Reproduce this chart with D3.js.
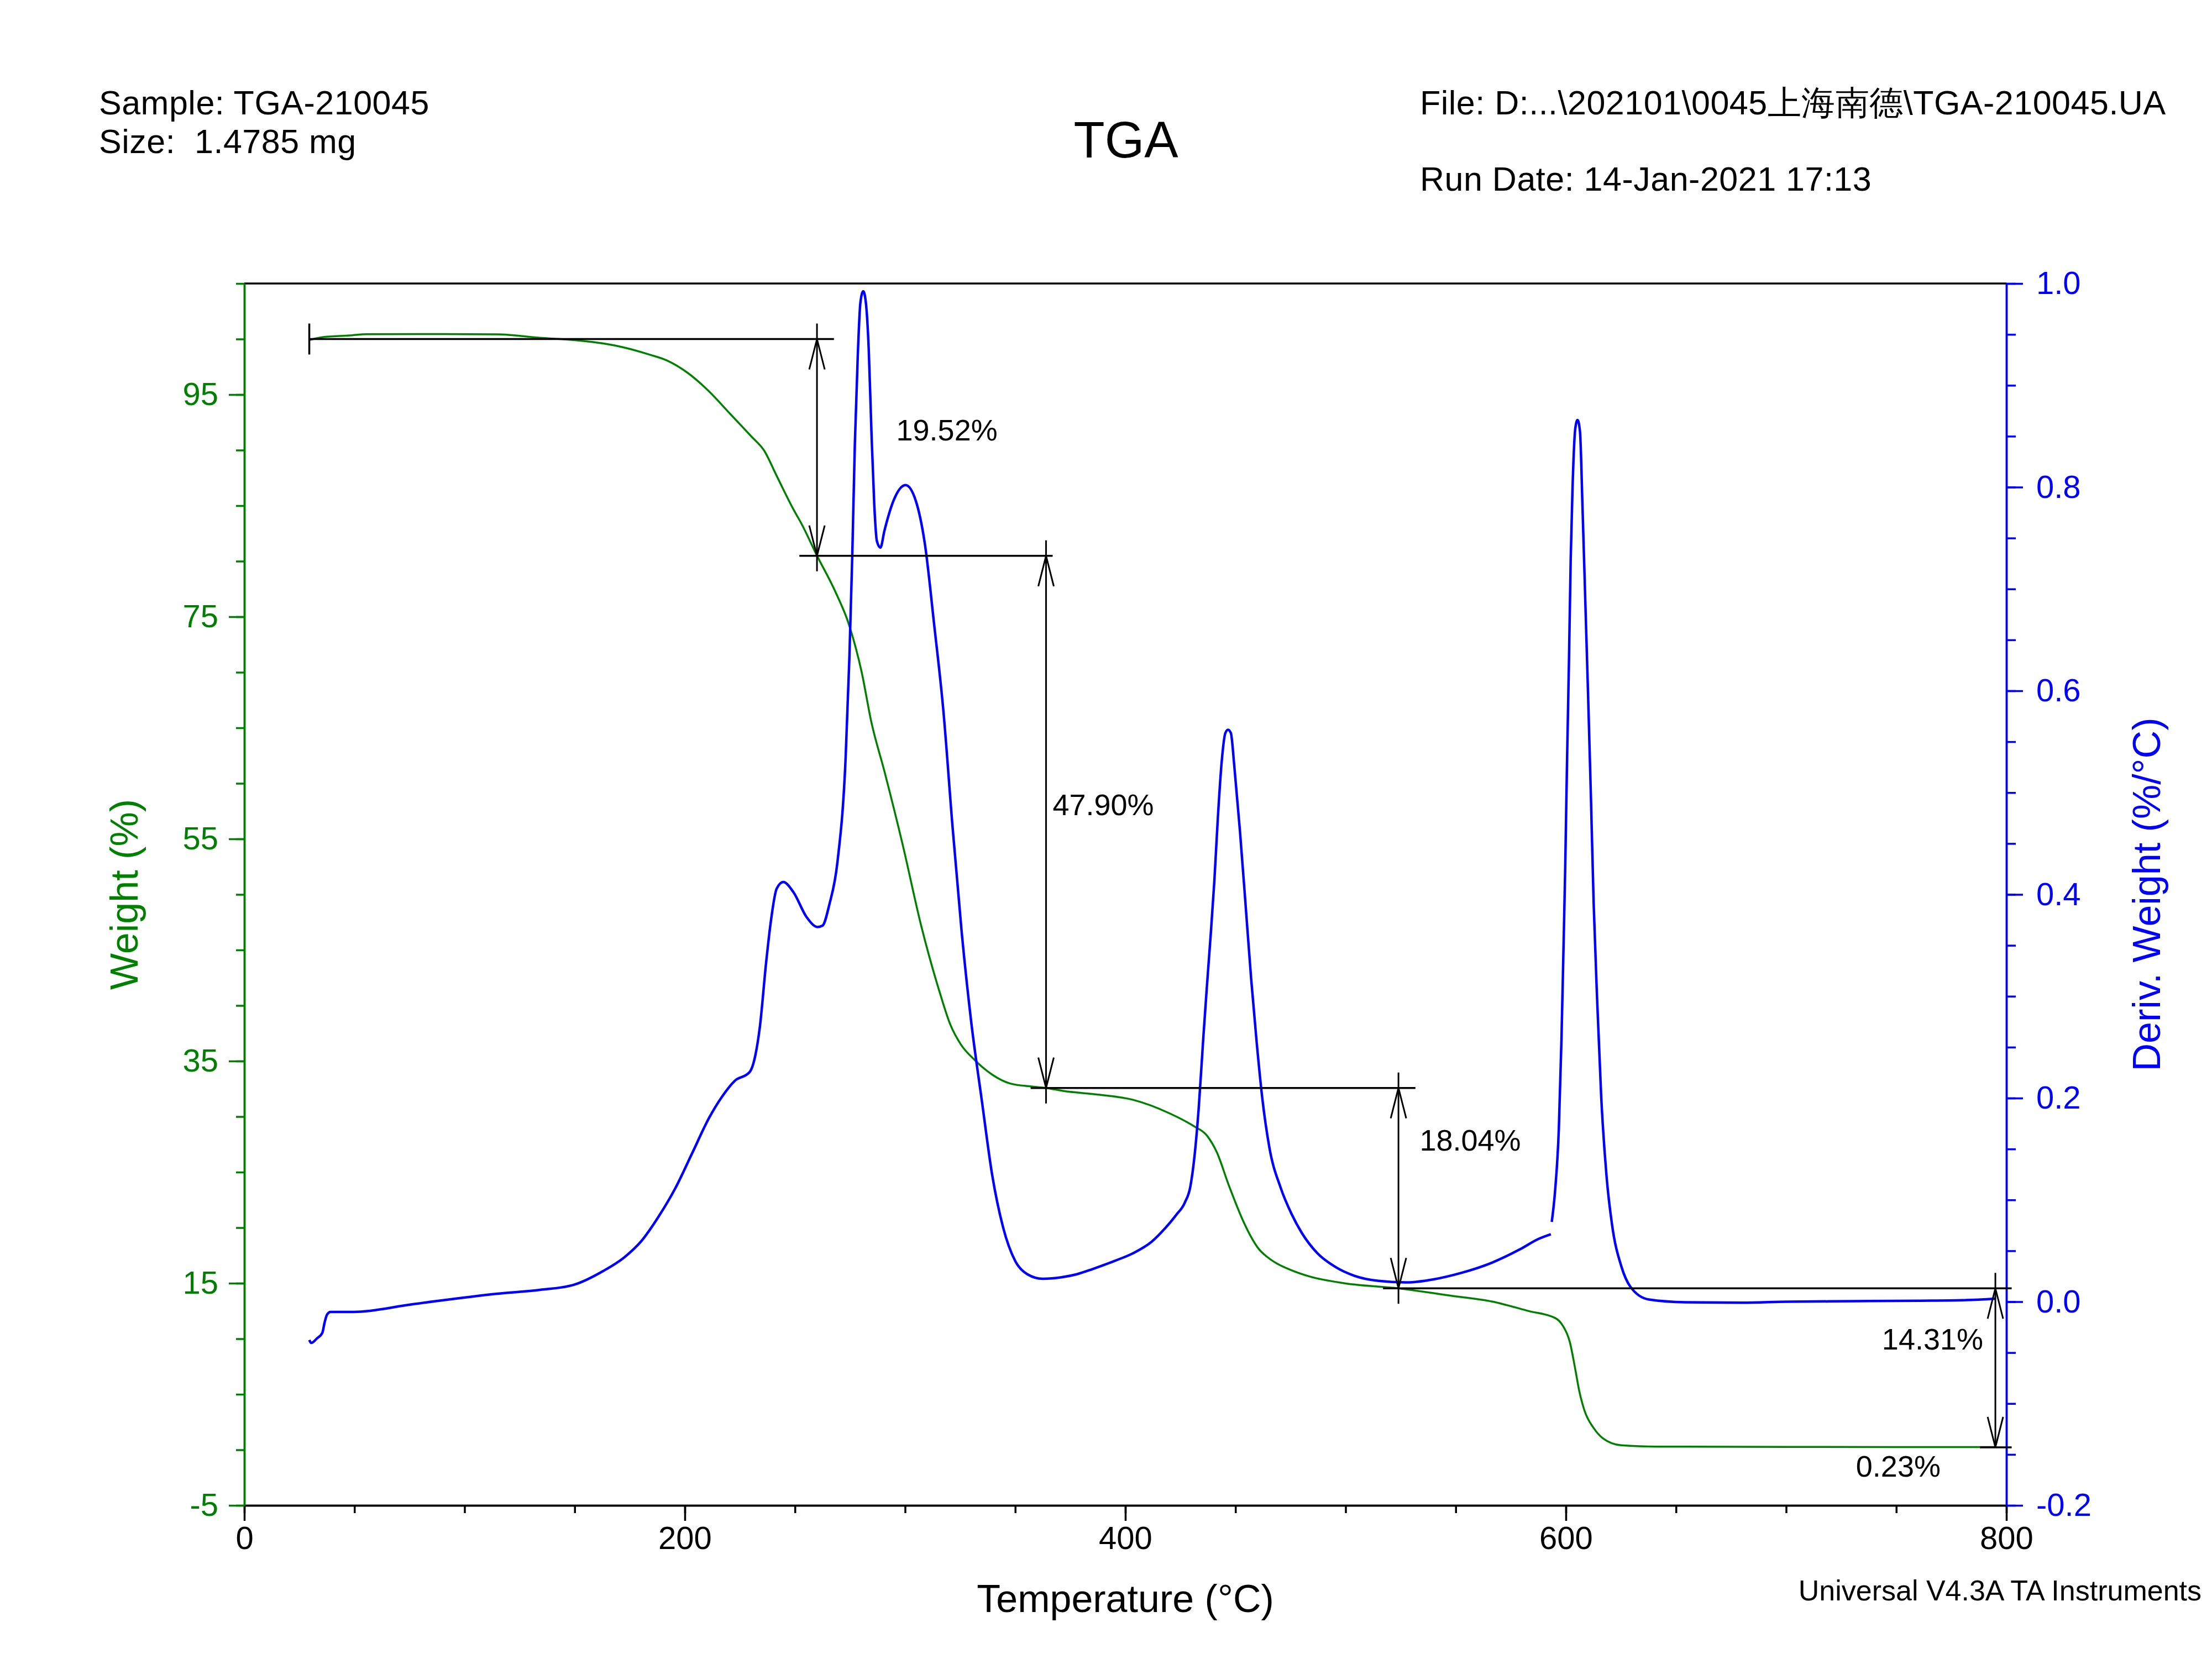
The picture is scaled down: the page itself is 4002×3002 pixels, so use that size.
<!DOCTYPE html>
<html>
<head>
<meta charset="utf-8">
<script src="https://cdn.jsdelivr.net/npm/d3@7"></script>
<style>
body { margin: 0; background: #fff; }
text { font-family: "Liberation Sans", Arial, sans-serif; }
</style>
</head>
<body>
<div id="chart"></div>
<script>
// weight curve, [temperature °C, weight %]
var weightCurve = [
    [29.5, 99.91], [35.3, 100.16], [47.8, 100.32], [55.5, 100.44], [80, 100.45],
    [115, 100.42], [134.2, 100.11], [147.6, 99.94], [163, 99.6], [172.6, 99.23],
    [184.1, 98.59], [191.8, 98.08], [201.4, 96.94], [211, 95.29], [220.6, 93.26],
    [230.2, 91.23], [236, 89.96], [241.7, 87.68], [249.4, 84.63], [253, 83.36],
    [260, 80.5], [268, 77.4], [274.5, 74.3], [280.3, 70.0], [284.7, 65.5],
    [290.6, 61.1], [299, 54.4], [307.3, 47.19], [315.7, 41.2], [320.5, 38.3],
    [325.3, 36.5], [331.7, 35.08], [339.7, 33.76], [347.7, 32.98], [357.3, 32.71],
    [364, 32.58], [371.7, 32.31], [387.7, 31.98], [403.7, 31.5], [420, 30.3],
    [431, 29.15], [437, 28.3], [441.5, 26.8], [447, 23.8], [453.5, 20.6],
    [457, 19.2], [460.5, 18.1], [464.5, 17.35], [469, 16.75], [475, 16.2],
    [483.7, 15.6], [499.7, 14.99], [524, 14.54], [547.7, 13.88], [566.6, 13.35],
    [583.4, 12.48], [595.1, 11.87], [598.4, 11.24], [601.8, 9.7], [604.3, 7.22],
    [606, 5.37], [608.5, 3.51], [612.6, 1.97], [616.8, 1.04], [625.2, 0.41],
    [641.9, 0.29], [700, 0.26], [795, 0.25]
];

// derivative weight, first segment (up to the gap near 593 °C)
var derivCurveA = [
    [29.5, -0.0376], [30.4, -0.0405], [33, -0.036], [35.4, -0.0307], [36.5, -0.020],
    [37.6, -0.0125], [39.1, -0.0100], [49.7, -0.0100], [76.5, -0.0024], [114.9, 0.0079],
    [134.3, 0.0117], [149.6, 0.0166], [162.9, 0.0301], [172.6, 0.0437], [180.2, 0.0594],
    [188, 0.0833], [195.7, 0.1115], [203.3, 0.1457], [211, 0.1805], [216.8, 0.2011],
    [222.6, 0.2168], [229.4, 0.2255], [232.1, 0.2429], [234.1, 0.2706], [236.9, 0.333],
    [238.9, 0.371], [241.7, 0.4057], [244.7, 0.4122], [249.4, 0.4019], [255.2, 0.378],
    [260.3, 0.368], [262.5, 0.3693], [265.6, 0.390], [269.3, 0.432], [273, 0.534],
    [274.7, 0.632], [276, 0.731], [277.2, 0.843], [278.5, 0.928], [279.7, 0.981],
    [281, 0.9924], [282.2, 0.981], [283.5, 0.935], [284.7, 0.856], [286, 0.783],
    [287.2, 0.747], [288.8, 0.7406], [290.6, 0.757], [294.8, 0.787], [300.2, 0.802],
    [304.8, 0.787], [309, 0.744], [313.2, 0.665], [317.4, 0.580], [321.5, 0.4676],
    [325.7, 0.3628], [329.9, 0.277], [335, 0.195], [339.5, 0.125], [344.5, 0.073],
    [350, 0.040], [355.5, 0.027], [362.5, 0.0225], [371, 0.0240], [378, 0.0270],
    [385, 0.0320], [395, 0.0400], [403.5, 0.0476], [412, 0.0590], [418, 0.0720],
    [423, 0.0850], [427, 0.0974], [429.5, 0.113], [431.5, 0.145], [433.3, 0.190],
    [435.4, 0.2594], [437, 0.309], [438.7, 0.359], [440.4, 0.413], [442, 0.4754],
    [443.7, 0.5294], [445.4, 0.5585], [446.6, 0.5618], [447.9, 0.5585], [449.5, 0.5252],
    [452, 0.463], [454.5, 0.3923], [457.1, 0.3175], [459.6, 0.2553], [462.1, 0.2012],
    [465.4, 0.1514], [470.5, 0.112], [475.5, 0.086], [480, 0.068], [487.2, 0.0476],
    [495.5, 0.0340], [504, 0.0255], [515, 0.0205], [528, 0.0190], [540, 0.0220],
    [552, 0.0280], [566.6, 0.0385], [579.2, 0.0515], [587.5, 0.0616], [593.2, 0.0663]
];

// derivative weight, second segment
var derivCurveB = [
    [593.6, 0.0784], [595.1, 0.1088], [596.8, 0.1696], [598, 0.2573], [598.9, 0.345],
    [599.7, 0.426], [600.5, 0.5273], [601.4, 0.6285], [602.2, 0.7298], [603, 0.7973],
    [604.3, 0.858], [605.3, 0.866], [606.4, 0.8547], [607.6, 0.777], [608.9, 0.6825],
    [610.1, 0.5948], [611.4, 0.4936], [612.6, 0.3923], [614.3, 0.2911], [616, 0.2033],
    [618.5, 0.1224], [621, 0.0751], [625.2, 0.0346], [629.4, 0.0144], [637.7, 0.0022],
    [654.5, -0.0005], [680, -0.001], [700, 0.0], [730, 0.0005], [760, 0.001],
    [780, 0.0015], [795, 0.003]
];

// step transitions
var stepLevels = [100.00, 80.48, 32.58, 14.54, 0.23];
var stepTemps = [260, 364, 524, 795];
var levelStart = [29.5, 252, 357, 517, 788];
var levelEnd = [267.7, 367, 531.7, 802.4, 802.4];
var stepLabels = ['19.52%', '47.90%', '18.04%', '14.31%', '0.23%'];
var labelTemp = [296, 367, 533.6, 743.5, 731.7];
var labelWeight = [90.87, 57.14, 26.94, 9.03, -2.41];

var tempTicks = [0, 200, 400, 600, 800];
var weightTicks = [-5, 15, 35, 55, 75, 95];
var derivTicks = [-0.2, 0, 0.2, 0.4, 0.6, 0.8, 1.0];
var tempMinor = d3.range(0, 801, 50);
var weightMinor = d3.range(-5, 106, 5);
var derivMinor = d3.range(-4, 21).map(d => d * 0.05);

var chart_width = 4002;
var chart_height = 3002;
var plot_left = 442, plot_right = 3630, plot_top = 513, plot_bottom = 2724;
var green = '#008000', blue = '#0000ff';
var font = '"Liberation Sans", Arial, sans-serif';

var svg = d3.select('#chart')
    .append('svg')
    .attr('width', chart_width)
    .attr('height', chart_height)
    .style('background', '#fff');

var x_scale = d3.scaleLinear().domain([0, 800]).range([plot_left, plot_right]);
var w_scale = d3.scaleLinear().domain([-5, 105]).range([plot_bottom, plot_top]);
var d_scale = d3.scaleLinear().domain([-0.2, 1.0]).range([plot_bottom, plot_top]);

// plain hyphen for negatives, like the original
var fmt1 = d3.format('.1f');
var derivFormat = d => fmt1(d).replace('\u2212', '-');
var weightFormat = d => String(d);

// axes
function styleAxis(g, color, size) {
    g.attr('font-family', font).attr('font-size', size);
    g.selectAll('line').attr('stroke', color).attr('stroke-width', 3.5);
    g.selectAll('path').attr('stroke', color).attr('stroke-width', 3.5);
    g.selectAll('text').attr('fill', color);
}

svg.append('g')
    .attr('transform', `translate(0, ${plot_bottom})`)
    .call(d3.axisBottom(x_scale).tickValues(tempMinor).tickSize(14).tickSizeOuter(0).tickFormat(''))
    .call(g => styleAxis(g, '#000', 58));
svg.append('g')
    .attr('transform', `translate(0, ${plot_bottom})`)
    .call(d3.axisBottom(x_scale).tickValues(tempTicks).tickSize(28).tickPadding(10).tickSizeOuter(0))
    .call(g => styleAxis(g, '#000', 58));

// top frame line
svg.append('line')
    .attr('x1', plot_left).attr('x2', plot_right)
    .attr('y1', plot_top).attr('y2', plot_top)
    .attr('stroke', '#000').attr('stroke-width', 3.5);

svg.append('g')
    .attr('transform', `translate(${plot_left}, 0)`)
    .call(d3.axisLeft(w_scale).tickValues(weightMinor).tickSize(15).tickSizeOuter(0).tickFormat(''))
    .call(g => styleAxis(g, green, 58));
svg.append('g')
    .attr('transform', `translate(${plot_left}, 0)`)
    .call(d3.axisLeft(w_scale).tickValues(weightTicks).tickSize(28).tickPadding(19).tickSizeOuter(0)
        .tickFormat(weightFormat))
    .call(g => styleAxis(g, green, 58));

svg.append('g')
    .attr('transform', `translate(${plot_right}, 0)`)
    .call(d3.axisRight(d_scale).tickValues(derivMinor).tickSize(17).tickSizeOuter(0).tickFormat(''))
    .call(g => styleAxis(g, blue, 58));
svg.append('g')
    .attr('transform', `translate(${plot_right}, 0)`)
    .call(d3.axisRight(d_scale).tickValues(derivTicks).tickSize(30).tickPadding(24).tickSizeOuter(0)
        .tickFormat(derivFormat))
    .call(g => styleAxis(g, blue, 58));

// axis titles
svg.append('text')
    .attr('x', (plot_left + plot_right) / 2).attr('y', 2917)
    .attr('text-anchor', 'middle')
    .attr('font-size', 70)
    .text('Temperature (°C)');

svg.append('text')
    .attr('transform', `translate(249, ${(plot_top + plot_bottom) / 2}) rotate(-90)`)
    .attr('text-anchor', 'middle')
    .attr('font-size', 70)
    .attr('fill', green)
    .text('Weight (%)');

svg.append('text')
    .attr('transform', `translate(3908, ${(plot_top + plot_bottom) / 2}) rotate(-90)`)
    .attr('text-anchor', 'middle')
    .attr('font-size', 70)
    .attr('fill', blue)
    .text('Deriv. Weight (%/°C)');

// curves
var w_line = d3.line()
    .x(d => x_scale(d[0]))
    .y(d => w_scale(d[1]))
    .curve(d3.curveMonotoneX);

var d_line = d3.line()
    .x(d => x_scale(d[0]))
    .y(d => d_scale(d[1]))
    .curve(d3.curveMonotoneX);

svg.append('path')
    .datum(weightCurve)
    .attr('d', w_line)
    .attr('fill', 'none')
    .attr('stroke', green)
    .attr('stroke-width', 3.5);

svg.selectAll('.deriv')
    .data([derivCurveA, derivCurveB])
    .enter()
    .append('path')
    .attr('class', 'deriv')
    .attr('d', d_line)
    .attr('fill', 'none')
    .attr('stroke', blue)
    .attr('stroke-width', 4.5);

// step annotations
var ann = svg.append('g').attr('stroke', '#000').attr('fill', 'none');

stepLevels.forEach(function(lv, i) {
    ann.append('line')
        .attr('x1', x_scale(levelStart[i])).attr('x2', x_scale(levelEnd[i]))
        .attr('y1', w_scale(lv)).attr('y2', w_scale(lv))
        .attr('stroke-width', 3.5);
});

// start marker
ann.append('line')
    .attr('x1', x_scale(levelStart[0])).attr('x2', x_scale(levelStart[0]))
    .attr('y1', w_scale(stepLevels[0]) - 28).attr('y2', w_scale(stepLevels[0]) + 28)
    .attr('stroke-width', 3.5);

stepTemps.forEach(function(t, i) {
    var xs = x_scale(t);
    var y1 = w_scale(stepLevels[i]);
    var y2 = w_scale(stepLevels[i + 1]);
    var ext = i < stepTemps.length - 1 ? 28 : 0;
    ann.append('line')
        .attr('x1', xs).attr('x2', xs)
        .attr('y1', y1 - 28).attr('y2', y2 + ext)
        .attr('stroke-width', 3);
    ann.append('path')
        .attr('d', `M${xs - 14},${y1 + 55}L${xs},${y1}L${xs + 14},${y1 + 55}`)
        .attr('stroke-width', 3);
    ann.append('path')
        .attr('d', `M${xs - 14},${y2 - 55}L${xs},${y2}L${xs + 14},${y2 - 55}`)
        .attr('stroke-width', 3);
});

svg.selectAll('.step-label')
    .data(stepLabels)
    .enter()
    .append('text')
    .attr('class', 'step-label')
    .attr('x', (d, i) => x_scale(labelTemp[i]))
    .attr('y', (d, i) => w_scale(labelWeight[i]))
    .attr('font-size', 54)
    .text(d => d);

// header
svg.append('text').attr('x', 179).attr('y', 207).attr('font-size', 61)
    .attr('letter-spacing', 0.5)
    .text('Sample: TGA-210045');
svg.append('text').attr('x', 179).attr('y', 277).attr('font-size', 61)
    .attr('letter-spacing', 0.5)
    .style('white-space', 'pre')
    .text('Size:  1.4785 mg');
svg.append('text').attr('x', 2037).attr('y', 285).attr('font-size', 92)
    .attr('text-anchor', 'middle')
    .text('TGA');
svg.append('text').attr('x', 2569).attr('y', 207).attr('font-size', 61)
    .attr('letter-spacing', 0.5)
    .text('File: D:...\\202101\\0045上海南德\\TGA-210045.UA');
svg.append('text').attr('x', 2569).attr('y', 345).attr('font-size', 61)
    .attr('letter-spacing', 0.5)
    .text('Run Date: 14-Jan-2021 17:13');
svg.append('text').attr('x', 3983).attr('y', 2896).attr('font-size', 52)
    .attr('text-anchor', 'end')
    .text('Universal V4.3A TA Instruments');
</script>
</body>
</html>
